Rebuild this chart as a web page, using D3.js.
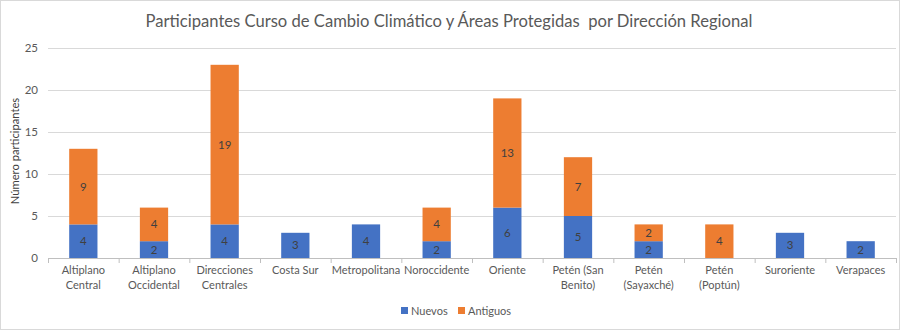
<!DOCTYPE html>
<html><head><meta charset="utf-8">
<script src="https://cdn.jsdelivr.net/npm/d3@7"></script>
<style>body{margin:0;background:#fff}svg{display:block}text{white-space:pre}</style>
</head><body><svg id="c" width="900" height="331"></svg>
<script>
const categories = ["Altiplano\nCentral","Altiplano\nOccidental","Direcciones\nCentrales","Costa Sur","Metropolitana","Noroccidente","Oriente","Petén (San\nBenito)","Petén\n(Sayaxché)","Petén\n(Poptún)","Suroriente","Verapaces"];
const nuevos   = [4,2,4,3,4,2,6,5,2,0,3,2];
const antiguos = [9,4,19,0,0,4,13,7,2,4,0,0];
const yTicks = [0,5,10,15,20,25];
const seriesNames = ["Nuevos","Antiguos"];
const colors = ["#4472C4","#ED7D31"];
const title = "Participantes Curso de Cambio Climático y Áreas Protegidas  por Dirección Regional";
const yLabel = "Número participantes";

const font = "Lato, 'Open Sans', sans-serif";
const svg = d3.select("#c");
svg.append("rect").attr("x",0.5).attr("y",0.5).attr("width",899).attr("height",329)
  .attr("fill","#fff").attr("stroke","#d9d9d9");

const m = {l:48, r:896, t:48, b:258};
const x = d3.scaleBand().domain(categories).range([m.l,m.r]).paddingInner(0.6).paddingOuter(0.3);
const xb = d3.scaleBand().domain(categories).range([m.l,m.r]);
const y = d3.scaleLinear().domain([0,25]).range([m.b,m.t]);

// gridlines
svg.append("g").selectAll("line").data(yTicks.filter(d=>d>0)).join("line")
  .attr("x1",m.l).attr("x2",m.r).attr("y1",d=>y(d)+0.5).attr("y2",d=>y(d)+0.5)
  .attr("stroke","#d9d9d9");
// y labels
svg.append("g").selectAll("text").data(yTicks).join("text")
  .attr("x",38).attr("y",d=>y(d)+4).attr("text-anchor","end")
  .attr("font-family",font).attr("font-size",11.5).attr("fill","#595959").text(d=>d);

// stacked bars
const data = categories.map((c,i)=>({c, v:[nuevos[i], antiguos[i]]}));
const stack = d3.stack().keys([0,1]).value((d,k)=>d.v[k])(data);
stack.forEach((layer,k)=>{
  const g = svg.append("g");
  g.selectAll("rect").data(layer).join("rect")
    .attr("x",d=>x(d.data.c)).attr("width",x.bandwidth())
    .attr("y",d=>y(d[1])).attr("height",d=>y(d[0])-y(d[1]))
    .attr("fill",colors[k]);
  g.selectAll("text").data(layer.filter(d=>d[1]-d[0]>0)).join("text")
    .attr("x",d=>x(d.data.c)+x.bandwidth()/2).attr("y",d=>(y(d[0])+y(d[1]))/2+4)
    .attr("text-anchor","middle").attr("font-family",font).attr("font-size",11.5)
    .attr("fill","#404040").text(d=>d[1]-d[0]);
});

// x axis line and ticks
svg.append("line").attr("x1",m.l).attr("x2",m.r).attr("y1",m.b+0.5).attr("y2",m.b+0.5).attr("stroke","#bfbfbf");
const tickPos = categories.map(c=>xb(c)).concat([m.r]);
svg.append("g").selectAll("line").data(tickPos).join("line")
  .attr("x1",d=>d+0.5).attr("x2",d=>d+0.5).attr("y1",m.b).attr("y2",m.b+5).attr("stroke","#bfbfbf");
// category labels
const cl = svg.append("g").selectAll("text").data(categories).join("text")
  .attr("x",c=>xb(c)+xb.bandwidth()/2).attr("y",274)
  .attr("text-anchor","middle").attr("font-family",font).attr("font-size",11).attr("fill","#595959");
cl.each(function(c){
  c.split("\n").forEach((line,i)=>{
    d3.select(this).append("tspan").attr("x",xb(c)+xb.bandwidth()/2).attr("dy",i?15:0).text(line);
  });
});

// title
svg.append("text").attr("x",449).attr("y",27).attr("text-anchor","middle")
  .attr("font-family",font).attr("font-size",16.6).attr("fill","#595959").text(title);
// y label
svg.append("text").attr("transform","translate(19,151) rotate(-90)").attr("text-anchor","middle")
  .attr("font-family",font).attr("font-size",11.2).attr("fill","#404040").text(yLabel);

// legend
const lg = svg.append("g");
const lx = [401,458];
seriesNames.forEach((n,i)=>{
  lg.append("rect").attr("x",lx[i]).attr("y",307).attr("width",7).attr("height",7).attr("fill",colors[i]);
  lg.append("text").attr("x",lx[i]+10).attr("y",315).attr("font-family",font).attr("font-size",11)
    .attr("fill","#595959").text(n);
});
</script></body></html>
